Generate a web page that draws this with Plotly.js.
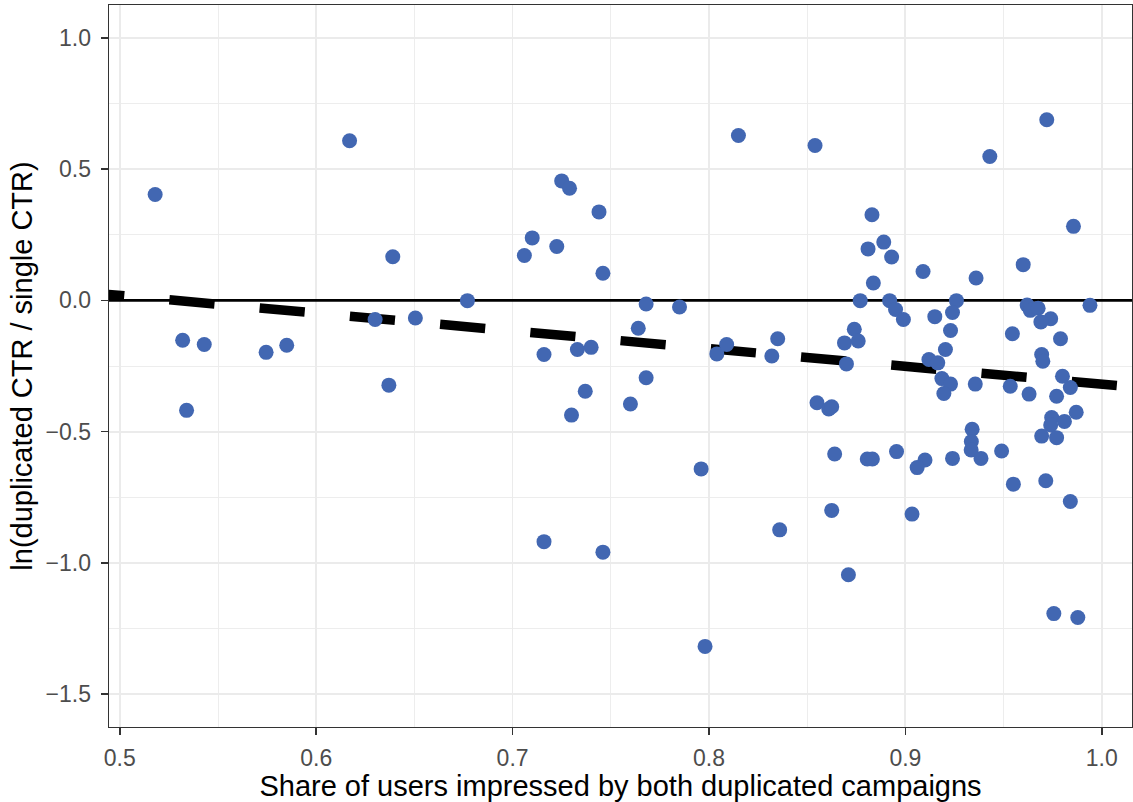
<!DOCTYPE html>
<html>
<head>
<meta charset="utf-8">
<script src="https://cdn.plot.ly/plotly-3.0.1.min.js"></script>
<style>
  html, body { margin: 0; padding: 0; background: #ffffff; }
  #chart { width: 1133px; height: 802px; }
</style>
</head>
<body>
<div id="chart"></div>
<script>
// Share of users reached by both duplicated campaigns vs. log CTR ratio
const overlapShare = [
  0.518, 0.617, 0.639, 0.532, 0.543, 0.5745, 0.585, 0.630, 0.637, 0.534,
  0.815, 0.725, 0.729, 0.744, 0.710, 0.706, 0.7225, 0.746, 0.677, 0.6505,
  0.768, 0.785, 0.764, 0.716, 0.733, 0.740, 0.804, 0.809, 0.832, 0.835,
  0.768, 0.737, 0.760, 0.730, 0.796, 0.716, 0.746, 0.798, 0.836, 0.854,
  0.943, 0.972, 0.9856, 0.883, 0.889, 0.881, 0.893, 0.8837, 0.909, 0.936,
  0.960, 0.877, 0.892, 0.895, 0.899, 0.926, 0.924, 0.915, 0.923, 0.9204,
  0.962, 0.9636, 0.9676, 0.974, 0.969, 0.994, 0.9545, 0.979, 0.874, 0.876,
  0.869, 0.870, 0.912, 0.9165, 0.9186, 0.923, 0.9196, 0.9356, 0.9534, 0.963,
  0.9694, 0.970, 0.980, 0.984, 0.977, 0.855, 0.861, 0.8625, 0.987, 0.9745,
  0.981, 0.974, 0.9694, 0.977, 0.934, 0.9336, 0.9335, 0.9385, 0.949, 0.924,
  0.910, 0.906, 0.8955, 0.8806, 0.8832, 0.864, 0.955, 0.9715, 0.984, 0.8625,
  0.9034, 0.871, 0.9756, 0.9878
];
const logCtrRatio = [
  0.403, 0.608, 0.166, -0.152, -0.168, -0.198, -0.171, -0.073, -0.323, -0.419,
  0.628, 0.455, 0.427, 0.337, 0.238, 0.171, 0.205, 0.103, -0.001, -0.067,
  -0.014, -0.025, -0.106, -0.206, -0.187, -0.179, -0.204, -0.168, -0.212, -0.146,
  -0.295, -0.346, -0.395, -0.437, -0.642, -0.919, -0.959, -1.318, -0.874, 0.590,
  0.548, 0.688, 0.282, 0.326, 0.222, 0.196, 0.165, 0.066, 0.110, 0.085,
  0.136, -0.001, -0.001, -0.035, -0.073, -0.001, -0.046, -0.062, -0.115, -0.187,
  -0.018, -0.038, -0.030, -0.070, -0.082, -0.019, -0.127, -0.146, -0.110, -0.155,
  -0.162, -0.242, -0.225, -0.238, -0.298, -0.319, -0.355, -0.319, -0.327, -0.357,
  -0.206, -0.232, -0.289, -0.332, -0.365, -0.390, -0.414, -0.405, -0.426, -0.446,
  -0.461, -0.475, -0.517, -0.523, -0.491, -0.538, -0.570, -0.602, -0.574, -0.602,
  -0.608, -0.637, -0.576, -0.604, -0.604, -0.585, -0.700, -0.687, -0.766, -0.800,
  -0.814, -1.045, -1.193, -1.208
];

// Linear trend: value at share 0.5 and change per unit share
const trendIntercept05 = 0.019;
const trendSlope = -0.676;

// Axis extents and ticks
const xRange = [0.4945, 1.0154];
const yRange = [-1.625, 1.125];
const xTicks = [0.5, 0.6, 0.7, 0.8, 0.9, 1.0];
const yTicks = [-1.5, -1.0, -0.5, 0.0, 0.5, 1.0];
const xTickText = ["0.5", "0.6", "0.7", "0.8", "0.9", "1.0"];
const yTickText = ["\u22121.5", "\u22121.0", "\u22120.5", "0.0", "0.5", "1.0"];

// the trend line runs across the whole panel (a little past the left edge so the dash phase starts outside)
const trendX = [0.4793, xRange[1]];
const trendY = trendX.map(x => trendIntercept05 + trendSlope * (x - 0.5));

const traces = [
  {
    x: xRange, y: [0, 0],
    type: 'scatter', mode: 'lines',
    line: { color: '#000000', width: 2.6 },
    hoverinfo: 'skip', showlegend: false
  },
  {
    x: trendX, y: trendY,
    type: 'scatter', mode: 'lines',
    line: { color: '#000000', width: 9.5, dash: '45.3px,45.3px' },
    hoverinfo: 'skip', showlegend: false
  },
  {
    x: overlapShare, y: logCtrRatio,
    type: 'scatter', mode: 'markers',
    marker: { color: '#4267B2', size: 15, line: { width: 0 } },
    showlegend: false
  }
];

const axisCommon = {
  showline: true, mirror: true, linecolor: '#333333', linewidth: 1.4,
  ticks: 'outside', ticklen: 7, tickwidth: 1.6, tickcolor: '#333333',
  showgrid: true, gridcolor: '#EBEBEB', gridwidth: 1.8,
  zeroline: false,
  tickfont: { family: 'Liberation Sans, Arial, sans-serif', size: 23, color: '#4D4D4D' },
  tickmode: 'array'
};

const layout = {
  width: 1133, height: 802,
  margin: { l: 109, r: 1, t: 5, b: 75 },
  paper_bgcolor: '#ffffff', plot_bgcolor: '#ffffff',
  font: { family: 'Liberation Sans, Arial, sans-serif', color: '#000000' },
  xaxis: Object.assign({}, axisCommon, {
    range: xRange, tickvals: xTicks, ticktext: xTickText,
    minor: { tickvals: [0.55, 0.65, 0.75, 0.85, 0.95], showgrid: true, gridcolor: '#EBEBEB', gridwidth: 0.9, ticks: '' },
    ticklabelstandoff: 3,
    title: { text: 'Share of users impressed by both duplicated campaigns',
             font: { size: 29, color: '#000000' }, standoff: 5 }
  }),
  yaxis: Object.assign({}, axisCommon, {
    range: yRange, tickvals: yTicks, ticktext: yTickText,
    minor: { tickvals: [-1.25, -0.75, -0.25, 0.25, 0.75], showgrid: true, gridcolor: '#EBEBEB', gridwidth: 0.9, ticks: '' },
    ticklabelstandoff: 5,
    title: { text: 'ln(duplicated CTR / single CTR)',
             font: { size: 29, color: '#000000' }, standoff: 4 }
  }),
  hovermode: 'closest'
};

Plotly.newPlot('chart', traces, layout, { displayModeBar: false, staticPlot: true });
</script>
</body>
</html>
